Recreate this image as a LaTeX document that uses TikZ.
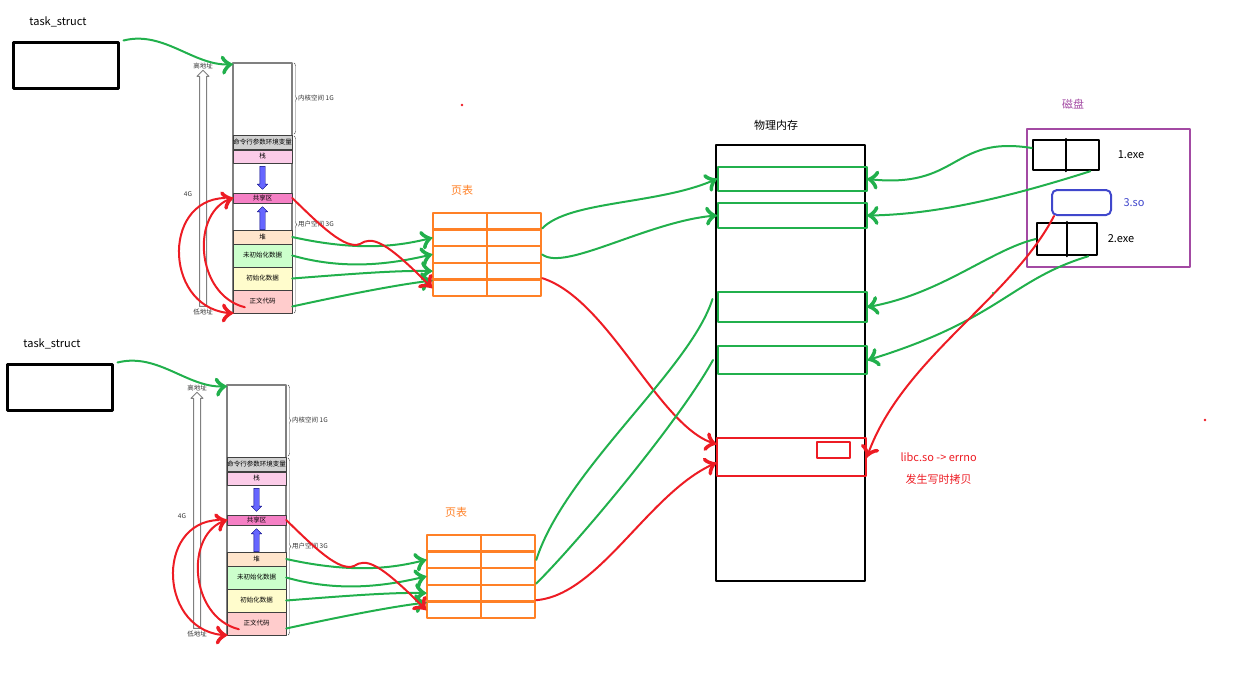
\documentclass[tikz,border=0pt]{standalone}
\usepackage{fontspec}
\setmainfont{Noto Sans CJK SC}
\usetikzlibrary{arrows}
\usetikzlibrary{decorations.markings}
\usetikzlibrary{decorations.pathreplacing}
\usetikzlibrary{positioning}
\usetikzlibrary{shapes.arrows}
\tikzset{->/.style = {decoration={markings,
                                  mark=at position 0.999 with {\arrow[scale=2.2]{to}}},
                      postaction={decorate}}}
\tikzset{seg/.style = {draw=black!75, minimum width=59pt, inner sep=0pt,
                       font=\fontsize{6.5}{7}\selectfont},
         cell/.style = {draw=morange, line width=2.5pt, minimum width=54pt,
                        minimum height=16.6pt, inner sep=0pt},
         frame/.style = {line width=2pt, minimum width=149pt, inner sep=0pt},
         growarrow/.style = {single arrow, draw=blue!50!black, fill=blue!60,
                             minimum height=23pt, inner sep=2.5pt,
                             single arrow head extend=2.5pt},
         small/.style = {font=\fontsize{6.5}{7}\selectfont, inner sep=1pt, text=black!80},
         big/.style = {font=\fontsize{11}{13}\selectfont}}
\definecolor{mred}{rgb}{0.93, 0.11, 0.14}
\definecolor{mgreen}{rgb}{0.13, 0.69, 0.30}
\definecolor{morange}{rgb}{1, 0.5, 0.15}
\definecolor{mpurple}{rgb}{0.64, 0.29, 0.64}
\definecolor{mblue}{rgb}{0.25, 0.28, 0.8}

\begin{document}
\begin{tikzpicture}[x=1pt, y=-1pt, line cap=round, line join=round]
      \useasboundingbox (0,0) rectangle (1241,675);
      % two processes, the second one shifted down
      \foreach \p/\sx/\sy in {a/0/0, b/-6/322} {
        \begin{scope}[shift={(\sx,\sy)}]
          \node [big] at (58,22) {task\_struct};
          \node [draw, line width=3pt, minimum width=105pt, minimum height=46pt] (\p task) at (65.5,65) {};
          % address space
          \node [draw=gray, line width=1.5pt, minimum width=59pt, minimum height=250pt] (\p mem) at (262.5,188) {};
          \node [seg, fill=black!18, minimum height=14pt] (\p cmd) at (262.5,142) {命令行参数环境变量};
          \node [seg, fill=magenta!20, minimum height=13pt] (\p stk) at (262.5,156.5) {栈};
          \node [seg, fill=magenta!50, minimum height=10pt] (\p shr) at (262.5,198) {共享区};
          \node [seg, fill=orange!20, minimum height=14pt] (\p heap) at (262.5,237) {堆};
          \node [seg, fill=green!20, minimum height=23pt] (\p bss) at (262.5,255.5) {未初始化数据};
          \node [seg, fill=yellow!20, minimum height=23pt] (\p data) at (262.5,278.5) {初始化数据};
          \node [seg, fill=red!20, minimum height=23pt] (\p text) at (262.5,301.5) {正文代码};
          \node [growarrow, shape border rotate=270] at (262.5,176.5) {};
          \node [growarrow, shape border rotate=90] at (262.5,219.5) {};
          \node [single arrow, draw=gray, fill=white, line width=1pt, minimum height=236pt,
                 inner sep=3pt, single arrow head extend=2.5pt, shape border rotate=90] (\p addr) at (203,190) {};
          \node [small] at (203,66) {高地址};
          \node [small] at (203,312) {低地址};
          \node [small] at (188,194) {4G};
          \draw [decorate, decoration={brace, amplitude=3pt}, black!70] (294,63) -- (294,134)
                node [small, midway, right=3pt] {内核空间 1G};
          \draw [decorate, decoration={brace, amplitude=3pt}, black!70] (294,136) -- (294,313)
                node [small, midway, right=3pt] {用户空间 3G};
          % page table
          \node [big, text=morange] at (462,190) {页表};
          \foreach \r in {1,...,5} {
            \node [cell] (\p pl\r) at (460,{204.7+16.6*\r}) {};
            \node [cell] (\p pr\r) at (514,{204.7+16.6*\r}) {};
          }
          % links
          \draw [mgreen, line width=2pt, ->] ([xshift=4pt]\p task.north east) .. controls (165,30) and (195,68) .. ([yshift=-2pt]\p mem.north west);
          \draw [mgreen, line width=2pt, ->] (\p heap.east) .. controls (360,252) and (400,246) .. (\p pl2.west);
          \draw [mgreen, line width=2pt, ->] (\p bss.east) .. controls (350,272) and (400,262) .. (\p pl3.west);
          \draw [mgreen, line width=2pt, ->] (\p data.east) .. controls (350,274) and (400,270) .. (\p pl4.west);
          \draw [mgreen, line width=2pt, ->] ([yshift=-5pt]\p text.east) .. controls (340,296) and (400,284) .. (\p pl4.south west);
          \draw [mred, line width=2pt, ->] ([shift={(12,-6)}]\p text.south west) .. controls (195,295) and (190,210) .. (\p shr.west);
          \draw [mred, line width=2pt, ->] ([xshift=-8pt]\p shr.west) .. controls (160,200) and (165,312) .. (\p text.south west);
          \draw [mred, line width=2pt, ->] (\p shr.east) .. controls (320,225) and (345,250) .. (360,244)
                .. controls (372,236) and (385,240) .. (\p pl5.west);
        \end{scope}
      }
      % physical memory
      \node [big] at (776,125) {物理内存};
      \node [draw, line width=2pt, minimum width=149pt, minimum height=436pt] (phys) at (790.5,363) {};
      \node [frame, draw=mgreen, minimum height=24pt] (g1) at (792,179) {};
      \node [frame, draw=mgreen, minimum height=25pt] (g2) at (792,215.5) {};
      \node [frame, draw=mgreen, minimum height=30pt] (g3) at (792,307) {};
      \node [frame, draw=mgreen, minimum height=28pt] (g4) at (792.5,360) {};
      \node [frame, draw=mred, minimum height=38pt] (cow) at (791.5,457) {};
      \node [draw=mred, line width=2pt, minimum width=33pt, minimum height=16pt] (errno) at (833.5,450) {};
      \node [big, text=mred, right=30pt of cow] (libc) {libc.so -> errno};
      \node [big, text=mred, below=6pt of libc] {发生写时拷贝};
      % disk
      \node [big, text=mpurple] at (1073,104) {磁盘};
      \node [draw=mpurple, line width=2.5pt, minimum width=163pt, minimum height=138pt] (disk) at (1108.5,198) {};
      \node [draw, line width=2.5pt, minimum width=66pt, minimum height=30pt] (exe1) at (1066,155) {};
      \draw [line width=2pt] (exe1.north) -- (exe1.south);
      \node [big, right=14pt of exe1] {1.exe};
      \node [draw=mblue, line width=2pt, rounded corners=5pt, minimum width=59pt, minimum height=25pt] (so3) at (1081.5,202.5) {};
      \node [big, text=mblue, right=8pt of so3] {3.so};
      \node [draw, line width=2.5pt, minimum width=60pt, minimum height=32pt] (exe2) at (1067,239) {};
      \draw [line width=2pt] (exe2.north) -- (exe2.south);
      \node [big, right=6pt of exe2] {2.exe};
      % page tables -> physical memory
      \draw [mgreen, line width=2pt, ->] (apr2.north east) .. controls (570,200) and (660,205) .. (g1.west);
      \draw [mgreen, line width=2pt, ->] (apr3.east) .. controls (565,272) and (650,220) .. (g2.west);
      \draw [mred, line width=2pt, ->] (apr5.north east) .. controls (610,300) and (660,430) .. ([yshift=-7pt]cow.north west);
      \draw [mgreen, line width=2pt] (bpr2.east) .. controls (565,470) and (690,370) .. ([shift={(-4,8)}]g3.north west);
      \draw [mgreen, line width=2pt] (bpr4.north east) .. controls (580,540) and (680,420) .. ([xshift=-4pt]g4.west);
      \draw [mred, line width=2pt, ->] (bpr5.north east) .. controls (600,595) and (650,490) .. ([yshift=-6pt]cow.west);
      % disk -> physical memory
      \draw [mgreen, line width=2pt, ->] ([yshift=7pt]exe1.west) .. controls (950,135) and (960,190) .. (g1.east);
      \draw [mgreen, line width=2pt, ->] ([xshift=-10pt]exe1.south east) .. controls (1000,200) and (930,215) .. (g2.east);
      \draw [mgreen, line width=2pt, ->] (exe2.west) .. controls (990,250) and (940,295) .. (g3.east);
      \draw [mgreen, line width=2pt, ->] ([xshift=-10pt]exe2.south east) .. controls (1010,280) and (1000,320) .. (g4.east);
      \draw [mred, line width=2pt, ->] ([xshift=3pt]so3.south west) .. controls (1010,300) and (900,360) .. (cow.east);
      \fill [mred] (462,105) circle (1.3pt);
      \fill [mred] (1205,420) circle (1.3pt);
      \fill [mgreen] (993,293) circle (1.2pt);
    \end{tikzpicture}
\end{document}
